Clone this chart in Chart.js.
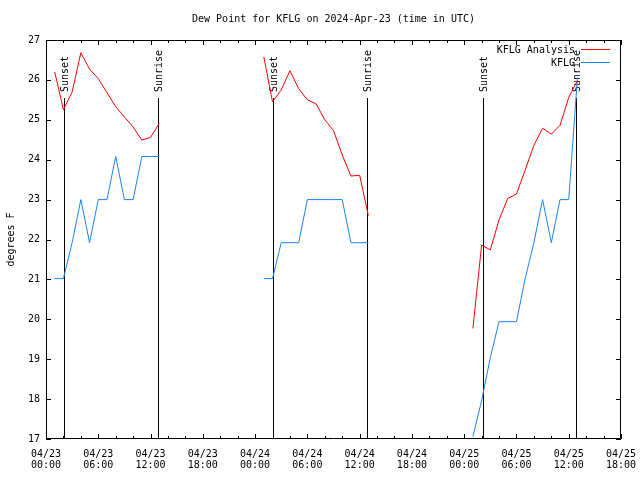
<!DOCTYPE html>
<html>
<head>
<meta charset="utf-8">
<title>Dew Point for KFLG</title>
<script src="https://cdn.jsdelivr.net/npm/chart.js@4.4.1/dist/chart.umd.min.js"></script>
<style>
html, body { margin: 0; padding: 0; background: #fff; }
</style>
</head>
<body>
<canvas id="dewChart" width="640" height="480"></canvas>
<script>
// hours since 04/23 00:00 UTC
const dayLabels = ['04/23', '04/24', '04/25'];
const hours = [1, 2, 3, 4, 5, 6, 7, 8, 9, 10, 11, 12, 13,
    25, 26, 27, 28, 29, 30, 31, 32, 33, 34, 35, 36, 37,
    49, 50, 51, 52, 53, 54, 55, 56, 57, 58, 59, 60, 61];
const analysisValues = [26.2, 25.25, 25.7, 26.68, 26.27, 26.03, 25.68, 25.33, 25.07, 24.82, 24.49, 24.56, 24.91,
    26.58, 25.45, 25.75, 26.23, 25.78, 25.5, 25.4, 25.0, 24.73, 24.12, 23.59, 23.61, 22.6,
    19.77, 21.86, 21.74, 22.49, 23.03, 23.14, 23.74, 24.36, 24.79, 24.64, 24.86, 25.56, 25.98];
const obsValues = [21.02, 21.02, 21.92, 23.0, 21.92, 23.0, 23.0, 24.08, 23.0, 23.0, 24.08, 24.08, 24.08,
    21.02, 21.02, 21.92, 21.92, 21.92, 23.0, 23.0, 23.0, 23.0, 23.0, 21.92, 21.92, 21.92,
    17.06, 17.96, 19.04, 19.94, 19.94, 19.94, 21.02, 21.92, 23.0, 21.92, 23.0, 23.0, 26.06];
const sunsetHours = [2.1, 26.1, 50.15];
const sunriseHours = [12.8, 36.85, 60.83];

const FONT = "'DejaVu Sans Mono', monospace";
const RED = '#ff0000';
const BLUE = '#1a84f0';

// break the line where there is a gap in the hours
function buildSeries(values) {
    let pts = [];
    hours.forEach((h, i) => {
        if (i > 0 && h - hours[i - 1] > 1) {
            pts.push({x: (h + hours[i - 1]) / 2, y: null});
        }
        pts.push({x: h, y: values[i]});
    });
    return pts;
}

function timeLabel(h) {
    let d = Math.floor(h / 24);
    let hh = h % 24;
    return [dayLabels[d], String(hh).padStart(2, '0') + ':00'];
}

const gnuplotFrame = {
    id: 'gnuplotFrame',
    beforeDatasetsDraw(chart) {
        const {ctx, chartArea, scales: {x, y}} = chart;
        ctx.save();
        ctx.strokeStyle = '#000';
        ctx.lineWidth = 1;
        ctx.fillStyle = '#000';
        ctx.font = '10px ' + FONT;
        const top = Math.round(y.getPixelForValue(25.55));
        const marks = sunsetHours.map(h => [h, 'Sunset']).concat(sunriseHours.map(h => [h, 'Sunrise']));
        for (let [h, text] of marks) {
            let px = Math.round(x.getPixelForValue(h)) + 0.5;
            ctx.beginPath();
            ctx.moveTo(px, top);
            ctx.lineTo(px, chartArea.bottom);
            ctx.stroke();
            ctx.save();
            ctx.translate(px + 1, top - 6);
            ctx.rotate(-Math.PI / 2);
            ctx.textAlign = 'left';
            ctx.textBaseline = 'middle';
            ctx.fillText(text, 0, 0);
            ctx.restore();
        }
        ctx.restore();
    },
    afterDatasetsDraw(chart) {
        const {ctx, chartArea, scales: {x, y}} = chart;
        const {left, right, top, bottom} = chartArea;
        ctx.save();
        ctx.strokeStyle = '#000';
        ctx.lineWidth = 1;
        ctx.beginPath();
        ctx.rect(left + 0.5, top + 0.5, right - left - 1, bottom - top - 1);
        // y ticks, both sides, inward
        for (let v = y.min; v <= y.max; v++) {
            let py = Math.round(y.getPixelForValue(v)) + 0.5;
            ctx.moveTo(left, py); ctx.lineTo(left + 5, py);
            ctx.moveTo(right, py); ctx.lineTo(right - 5, py);
        }
        // x ticks every 2 hours, longer every 6
        for (let h = x.min; h <= x.max; h += 2) {
            let px = Math.round(x.getPixelForValue(h)) + 0.5;
            let len = h % 6 === 0 ? 5 : 3;
            ctx.moveTo(px, bottom); ctx.lineTo(px, bottom - len);
            ctx.moveTo(px, top); ctx.lineTo(px, top + len);
        }
        ctx.stroke();

        // legend, gnuplot style
        ctx.font = '10px ' + FONT;
        ctx.fillStyle = '#000';
        ctx.textAlign = 'right';
        ctx.textBaseline = 'middle';
        chart.data.datasets.forEach((ds, i) => {
            let ly = top + 10 + i * 13;
            ctx.fillText(ds.label, right - 46, ly);
            ctx.strokeStyle = ds.borderColor;
            ctx.beginPath();
            ctx.moveTo(right - 40, ly - 0.5);
            ctx.lineTo(right - 11, ly - 0.5);
            ctx.stroke();
        });
        ctx.restore();
    }
};

const ctx = document.getElementById('dewChart');
let dewChart = new Chart(ctx, {
    type: 'line',
    data: {
        datasets: [
            {
                label: 'KFLG Analysis',
                data: buildSeries(analysisValues),
                borderColor: RED,
                borderWidth: 1,
                pointRadius: 0,
                tension: 0,
                spanGaps: false,
                fill: false
            },
            {
                label: 'KFLG',
                data: buildSeries(obsValues),
                borderColor: BLUE,
                borderWidth: 1,
                pointRadius: 0,
                tension: 0,
                spanGaps: false,
                fill: false
            }
        ]
    },
    options: {
        responsive: false,
        animation: false,
        devicePixelRatio: 1,
        layout: {
            padding: {left: 0, right: 19, top: 0, bottom: 0}
        },
        scales: {
            x: {
                type: 'linear',
                min: 0,
                max: 66,
                grid: {display: false, drawTicks: false},
                border: {display: false},
                ticks: {
                    stepSize: 6,
                    autoSkip: false,
                    maxRotation: 0,
                    padding: 10,
                    color: '#000',
                    font: {family: FONT, size: 10, lineHeight: 1.1},
                    callback: (v) => timeLabel(v)
                },
                afterFit(scale) {
                    scale.height = 41;
                    scale.paddingLeft = 0;
                    scale.paddingRight = 0;
                }
            },
            y: {
                min: 17,
                max: 27,
                grid: {display: false, drawTicks: false},
                border: {display: false},
                ticks: {
                    stepSize: 1,
                    padding: 6,
                    color: '#000',
                    font: {family: FONT, size: 10}
                },
                title: {
                    display: true,
                    text: 'degrees F',
                    color: '#000',
                    padding: {top: 5, bottom: 0},
                    font: {family: FONT, size: 10, lineHeight: 1.2}
                },
                afterFit(scale) { scale.width = 46; }
            }
        },
        plugins: {
            legend: {display: false},
            tooltip: {enabled: false},
            title: {
                display: true,
                text: 'Dew Point for KFLG on 2024-Apr-23 (time in UTC)',
                fullSize: false,
                color: '#000',
                padding: {top: 13, bottom: 15},
                font: {family: FONT, size: 10, weight: 'normal', lineHeight: 1.2}
            }
        }
    },
    plugins: [gnuplotFrame]
});
</script>
</body>
</html>
